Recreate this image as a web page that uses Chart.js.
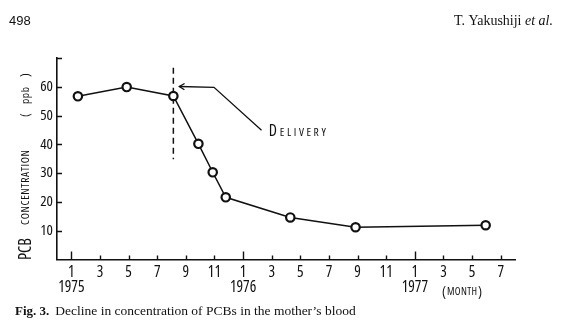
<!DOCTYPE html>
<html>
<head>
<meta charset="utf-8">
<script src="https://cdn.jsdelivr.net/npm/chart.js@4"></script>
<style>
  html, body { margin: 0; padding: 0; background: #fff; }
  #wrap { width: 565px; height: 331px; }
</style>
</head>
<body>
<div id="wrap"><canvas id="c" width="565" height="331"></canvas></div>
<script>
// Months counted from January 1975 (= 1), PCB level in ppb
const sampleMonths = [1.46, 4.87, 8.13, 9.88, 10.88, 11.79, 16.3, 20.86, 29.95];
const pcbPpb       = [56.7, 59.9, 56.8, 40.2, 30.3, 21.6, 14.6, 11.2, 11.9];

// Axis ticks
const xTickMonths = [1, 3, 5, 7, 9, 11, 13, 15, 17, 19, 21, 23, 25, 27, 29, 31];
const yTickValues = [10, 20, 30, 40, 50, 60];
const yearStartMonths = [1, 13, 25];
const yearLabels = ['1975', '1976', '1977'];

// Delivery marker and its callout
const deliveryMonth = 8.13;
const deliveryMarkerRange = [66.6, 34.8];
const deliveryArrow = [{ x: 8.55, y: 60.1 }, { x: 10.97, y: 59.8 }, { x: 14.29, y: 44.9 }];
const deliveryTextAt = { x: 14.8, y: 42.8 };

const INK = '#111';
const LETTERING = '"Open Sans", "DejaVu Sans", sans-serif';
const SERIF = '"Liberation Serif", "DejaVu Serif", serif';

// Draws text so that it spans exactly `width` px: squeezes it when too wide,
// spreads the letters when too narrow.
function fitText(ctx, text, x, y, width) {
  const natural = ctx.measureText(text).width;
  if (natural >= width) {
    ctx.save();
    ctx.translate(x, y);
    ctx.scale(width / natural, 1);
    ctx.fillText(text, 0, 0);
    ctx.restore();
    return;
  }
  const extra = text.length > 1 ? (width - natural) / (text.length - 1) : 0;
  let cx = x;
  for (const ch of text) {
    ctx.fillText(ch, cx, y);
    cx += ctx.measureText(ch).width + extra;
  }
}

const figureDecor = {
  id: 'figureDecor',
  afterDraw(chart) {
    const ctx = chart.ctx;
    const xs = chart.scales.x, ys = chart.scales.y;
    const x0 = xs.left, y0 = ys.bottom;
    ctx.save();
    ctx.strokeStyle = INK;
    ctx.fillStyle = INK;
    ctx.lineWidth = 1.4;

    // inward tick marks on the x axis, taller at each January
    ctx.beginPath();
    xTickMonths.forEach(m => {
      const px = Math.round(xs.getPixelForValue(m)) + 0.5;
      const len = yearStartMonths.includes(m) ? 8 : 4;
      ctx.moveTo(px, y0);
      ctx.lineTo(px, y0 - len);
    });
    // inward tick marks on the y axis, plus the cap at the top
    [...yTickValues, ys.max].forEach(v => {
      const py = Math.round(ys.getPixelForValue(v)) + 0.5;
      ctx.moveTo(x0, py);
      ctx.lineTo(x0 + 5, py);
    });
    ctx.stroke();

    // arrow head at the start of the callout line
    const a = deliveryArrow[0], b = deliveryArrow[1];
    const ax = xs.getPixelForValue(a.x), ay = ys.getPixelForValue(a.y);
    const bx = xs.getPixelForValue(b.x), by = ys.getPixelForValue(b.y);
    const ang = Math.atan2(by - ay, bx - ax);
    ctx.beginPath();
    ctx.moveTo(ax + 6 * Math.cos(ang - 0.55), ay + 6 * Math.sin(ang - 0.55));
    ctx.lineTo(ax, ay);
    ctx.lineTo(ax + 6 * Math.cos(ang + 0.55), ay + 6 * Math.sin(ang + 0.55));
    ctx.stroke();

    // DELIVERY label in small capitals
    ctx.textBaseline = 'alphabetic';
    ctx.textAlign = 'left';
    const tx = xs.getPixelForValue(deliveryTextAt.x);
    const ty = ys.getPixelForValue(deliveryTextAt.y);
    ctx.font = 'condensed 500 16px ' + LETTERING;
    fitText(ctx, 'D', tx, ty, 9);
    ctx.font = 'condensed 500 11.5px ' + LETTERING;
    fitText(ctx, 'ELIVERY', tx + 11, ty, 46);

    // month unit after the last year label
    ctx.font = 'condensed 500 14px ' + LETTERING;
    ctx.fillText('(', 442, 296);
    ctx.fillText(')', 478, 296);
    ctx.font = 'condensed 500 10.5px ' + LETTERING;
    fitText(ctx, 'MONTH', 447, 295, 30);

    // rotated y axis title
    ctx.save();
    ctx.translate(31, 0);
    ctx.rotate(-Math.PI / 2);
    ctx.font = 'condensed 500 18px ' + LETTERING;
    fitText(ctx, 'PCB', -260, 0, 22);
    ctx.translate(0, -2);
    ctx.font = 'condensed 500 11.5px ' + LETTERING;
    fitText(ctx, 'CONCENTRATION', -225, 0, 75);
    ctx.font = 'condensed 500 13px ' + LETTERING;
    fitText(ctx, '(', -117, 0, 4);
    ctx.font = 'condensed 500 11.5px ' + LETTERING;
    fitText(ctx, 'ppb', -104, 0, 17);
    ctx.font = 'condensed 500 13px ' + LETTERING;
    fitText(ctx, ')', -77, 0, 4);
    ctx.restore();

    // page header
    ctx.font = '13px "Liberation Sans", sans-serif';
    ctx.fillText('498', 9, 25);
    ctx.textAlign = 'right';
    ctx.font = 'italic 14px ' + SERIF;
    const itW = ctx.measureText('et al.').width;
    ctx.fillText('et al.', 553, 25);
    ctx.font = '14px ' + SERIF;
    ctx.fillText('T. Yakushiji ', 553 - itW, 25);

    // figure caption
    ctx.textAlign = 'left';
    ctx.font = 'bold 13px ' + SERIF;
    ctx.fillText('Fig. 3.', 15, 315);
    const fW = ctx.measureText('Fig. 3.').width;
    ctx.font = '13.5px ' + SERIF;
    ctx.fillText('Decline in concentration of PCBs in the mother\u2019s blood', 15 + fW + 6, 315);
    ctx.restore();
  }
};

new Chart(document.getElementById('c'), {
  type: 'line',
  data: {
    datasets: [
      {
        label: 'PCB concentration',
        data: sampleMonths.map((m, i) => ({ x: m, y: pcbPpb[i] })),
        borderColor: INK,
        borderWidth: 1.5,
        pointRadius: 4.2,
        pointBorderWidth: 2.2,
        pointBackgroundColor: '#fff',
        pointBorderColor: INK,
        tension: 0,
        order: 0
      },
      {
        label: 'Delivery',
        data: deliveryMarkerRange.map(v => ({ x: deliveryMonth, y: v })),
        borderColor: INK,
        borderWidth: 1.5,
        borderDash: [6, 4],
        pointRadius: 0,
        order: 2
      },
      {
        label: 'Callout',
        data: deliveryArrow,
        borderColor: INK,
        borderWidth: 1.3,
        pointRadius: 0,
        tension: 0,
        order: 1
      }
    ]
  },
  options: {
    responsive: false,
    animation: false,
    devicePixelRatio: 1,
    layout: { padding: { left: 0, right: 50, top: 58, bottom: 0 } },
    plugins: { legend: { display: false }, tooltip: { enabled: false } },
    scales: {
      x: {
        type: 'linear',
        min: 0,
        max: 32,
        afterFit(scale) { scale.height = 71.5; },
        afterBuildTicks(scale) { scale.ticks = xTickMonths.map(v => ({ value: v })); },
        grid: { display: false, drawTicks: false },
        border: { display: true, color: INK, width: 1.6 },
        ticks: {
          autoSkip: false,
          maxRotation: 0,
          padding: 5,
          color: INK,
          font: { family: LETTERING, weight: 'condensed 500', size: 15.5, lineHeight: 1.0 },
          callback(value) {
            const month = ((value - 1) % 12) + 1;
            const k = yearStartMonths.indexOf(value);
            return k >= 0 ? [String(month), yearLabels[k]] : String(month);
          }
        }
      },
      y: {
        type: 'linear',
        min: 0,
        max: 70,
        afterFit(scale) { scale.width = 57; },
        afterBuildTicks(scale) { scale.ticks = yTickValues.map(v => ({ value: v })); },
        grid: { display: false, drawTicks: false },
        border: { display: true, color: INK, width: 1.6 },
        ticks: {
          padding: 4,
          color: INK,
          font: { family: LETTERING, weight: 'condensed 500', size: 15 }
        }
      }
    }
  },
  plugins: [figureDecor]
});
</script>
</body>
</html>
